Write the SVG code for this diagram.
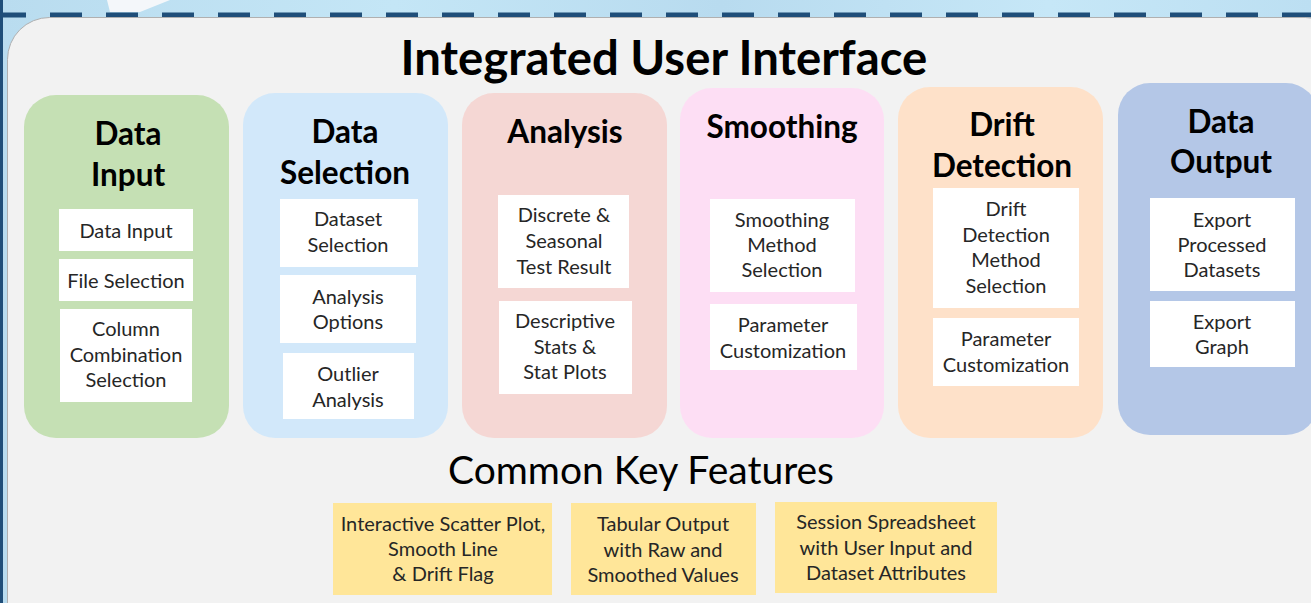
<svg xmlns="http://www.w3.org/2000/svg" width="1311" height="603" viewBox="0 0 1311 603">
<defs>
<style>
.title{font-family:Lato,"Liberation Sans",sans-serif;font-weight:bold;font-size:47.3px;fill:#000;text-anchor:middle}
.head{font-family:Lato,"Liberation Sans",sans-serif;font-weight:bold;font-size:31.5px;fill:#000;text-anchor:middle}
.sub{font-family:Lato,"Liberation Sans",sans-serif;font-size:20px;fill:#262626;text-anchor:middle}
.section{font-family:Lato,"Liberation Sans",sans-serif;font-size:39px;fill:#000;text-anchor:middle}
.box{fill:#ffffff}
.feat{fill:#ffe699}
</style>
<linearGradient id="sky" x1="0" y1="0" x2="1" y2="0">
<stop offset="0" stop-color="#b9dcef"/>
<stop offset="0.3" stop-color="#c4e6f6"/>
<stop offset="0.55" stop-color="#b8dbef"/>
<stop offset="0.8" stop-color="#c6e7f7"/>
<stop offset="1" stop-color="#bcdff2"/>
</linearGradient>
</defs>
<rect x="0" y="0" width="1311" height="603" fill="url(#sky)"/>
<polygon points="107,0 170,0 140,12 110,12" fill="#f4f7fa"/>
<rect x="0" y="0" width="3" height="603" fill="#1f4e79"/>
<g fill="#1f4e79">
<rect x="0" y="12.5" width="26" height="5"/>
<rect x="50" y="12.5" width="32" height="5"/><rect x="106" y="12.5" width="32" height="5"/><rect x="162" y="12.5" width="32" height="5"/><rect x="218" y="12.5" width="32" height="5"/><rect x="274" y="12.5" width="32" height="5"/><rect x="330" y="12.5" width="32" height="5"/><rect x="386" y="12.5" width="32" height="5"/><rect x="442" y="12.5" width="32" height="5"/><rect x="498" y="12.5" width="32" height="5"/><rect x="554" y="12.5" width="32" height="5"/><rect x="610" y="12.5" width="32" height="5"/><rect x="666" y="12.5" width="32" height="5"/><rect x="722" y="12.5" width="32" height="5"/><rect x="778" y="12.5" width="32" height="5"/><rect x="834" y="12.5" width="32" height="5"/><rect x="890" y="12.5" width="32" height="5"/><rect x="946" y="12.5" width="32" height="5"/><rect x="1002" y="12.5" width="32" height="5"/><rect x="1058" y="12.5" width="32" height="5"/><rect x="1114" y="12.5" width="32" height="5"/><rect x="1170" y="12.5" width="32" height="5"/><rect x="1226" y="12.5" width="32" height="5"/><rect x="1282" y="12.5" width="32" height="5"/>
</g>
<rect id="panel" x="7.5" y="17.5" width="1340" height="640" rx="42" ry="42" fill="#f2f2f2" stroke="#b0b0b0" stroke-width="1"/>
<text class="title" x="664" y="75">Integrated User Interface</text>

<g id="data-input">
<rect x="24" y="95" width="205" height="343" rx="32" fill="#c5e0b4"/>
<text class="head" x="128" y="145">Data</text>
<text class="head" x="128" y="186">Input</text>
<rect class="box" x="59" y="209" width="134" height="42"/>
<text class="sub" x="126" y="238">Data Input</text>
<rect class="box" x="59" y="259" width="134" height="42"/>
<text class="sub" x="126" y="288">File Selection</text>
<rect class="box" x="60" y="309" width="132" height="93"/>
<text class="sub" x="126" y="336">Column</text>
<text class="sub" x="126" y="362">Combination</text>
<text class="sub" x="126" y="387">Selection</text>
</g>

<g id="data-selection">
<rect x="243" y="93" width="205" height="345" rx="32" fill="#d2e8fa"/>
<text class="head" x="345" y="143">Data</text>
<text class="head" x="345" y="184">Selection</text>
<rect class="box" x="280" y="199" width="138" height="68"/>
<text class="sub" x="348" y="226">Dataset</text>
<text class="sub" x="348" y="252">Selection</text>
<rect class="box" x="280" y="275" width="136" height="68"/>
<text class="sub" x="348" y="304">Analysis</text>
<text class="sub" x="348" y="329">Options</text>
<rect class="box" x="283" y="353" width="131" height="66"/>
<text class="sub" x="348" y="381">Outlier</text>
<text class="sub" x="348" y="407">Analysis</text>
</g>

<g id="analysis">
<rect x="462" y="93" width="205" height="345" rx="32" fill="#f5d7d4"/>
<text class="head" x="565" y="143">Analysis</text>
<rect class="box" x="498" y="195" width="131" height="93"/>
<text class="sub" x="564" y="222">Discrete &amp;</text>
<text class="sub" x="564" y="248">Seasonal</text>
<text class="sub" x="564" y="274">Test Result</text>
<rect class="box" x="499" y="301" width="133" height="93"/>
<text class="sub" x="565" y="328">Descriptive</text>
<text class="sub" x="565" y="354">Stats &amp;</text>
<text class="sub" x="565" y="379">Stat Plots</text>
</g>

<g id="smoothing">
<rect x="680" y="88" width="204" height="350" rx="32" fill="#fddef4"/>
<text class="head" x="782" y="138">Smoothing</text>
<rect class="box" x="710" y="199" width="145" height="93"/>
<text class="sub" x="782" y="227">Smoothing</text>
<text class="sub" x="782" y="252">Method</text>
<text class="sub" x="782" y="277">Selection</text>
<rect class="box" x="710" y="304" width="147" height="66"/>
<text class="sub" x="783" y="332">Parameter</text>
<text class="sub" x="783" y="358">Customization</text>
</g>

<g id="drift-detection">
<rect x="898" y="87" width="205" height="351" rx="32" fill="#fee1c9"/>
<text class="head" x="1002" y="136">Drift</text>
<text class="head" x="1002" y="177">Detection</text>
<rect class="box" x="933" y="188" width="146" height="120"/>
<text class="sub" x="1006" y="216">Drift</text>
<text class="sub" x="1006" y="242">Detection</text>
<text class="sub" x="1006" y="267">Method</text>
<text class="sub" x="1006" y="293">Selection</text>
<rect class="box" x="933" y="318" width="146" height="68"/>
<text class="sub" x="1006" y="346">Parameter</text>
<text class="sub" x="1006" y="372">Customization</text>
</g>

<g id="data-output">
<rect x="1118" y="83" width="200" height="352" rx="32" fill="#b4c7e7"/>
<text class="head" x="1221" y="133">Data</text>
<text class="head" x="1221" y="173">Output</text>
<rect class="box" x="1150" y="198" width="145" height="93"/>
<text class="sub" x="1222" y="227">Export</text>
<text class="sub" x="1222" y="252">Processed</text>
<text class="sub" x="1222" y="277">Datasets</text>
<rect class="box" x="1150" y="301" width="145" height="66"/>
<text class="sub" x="1222" y="329">Export</text>
<text class="sub" x="1222" y="354">Graph</text>
</g>

<text class="section" x="641" y="484">Common Key Features</text>

<g id="feature-scatter">
<rect class="feat" x="333" y="503" width="219" height="92"/>
<text class="sub" x="443" y="531">Interactive Scatter Plot,</text>
<text class="sub" x="443" y="556">Smooth Line</text>
<text class="sub" x="443" y="581">&amp; Drift Flag</text>
</g>
<g id="feature-table">
<rect class="feat" x="571" y="503" width="185" height="92"/>
<text class="sub" x="663" y="531">Tabular Output</text>
<text class="sub" x="663" y="557">with Raw and</text>
<text class="sub" x="663" y="582">Smoothed Values</text>
</g>
<g id="feature-session">
<rect class="feat" x="775" y="502" width="222" height="91"/>
<text class="sub" x="886" y="529">Session Spreadsheet</text>
<text class="sub" x="886" y="555">with User Input and</text>
<text class="sub" x="886" y="580">Dataset Attributes</text>
</g>
<g id="connectors"/>
</svg>
